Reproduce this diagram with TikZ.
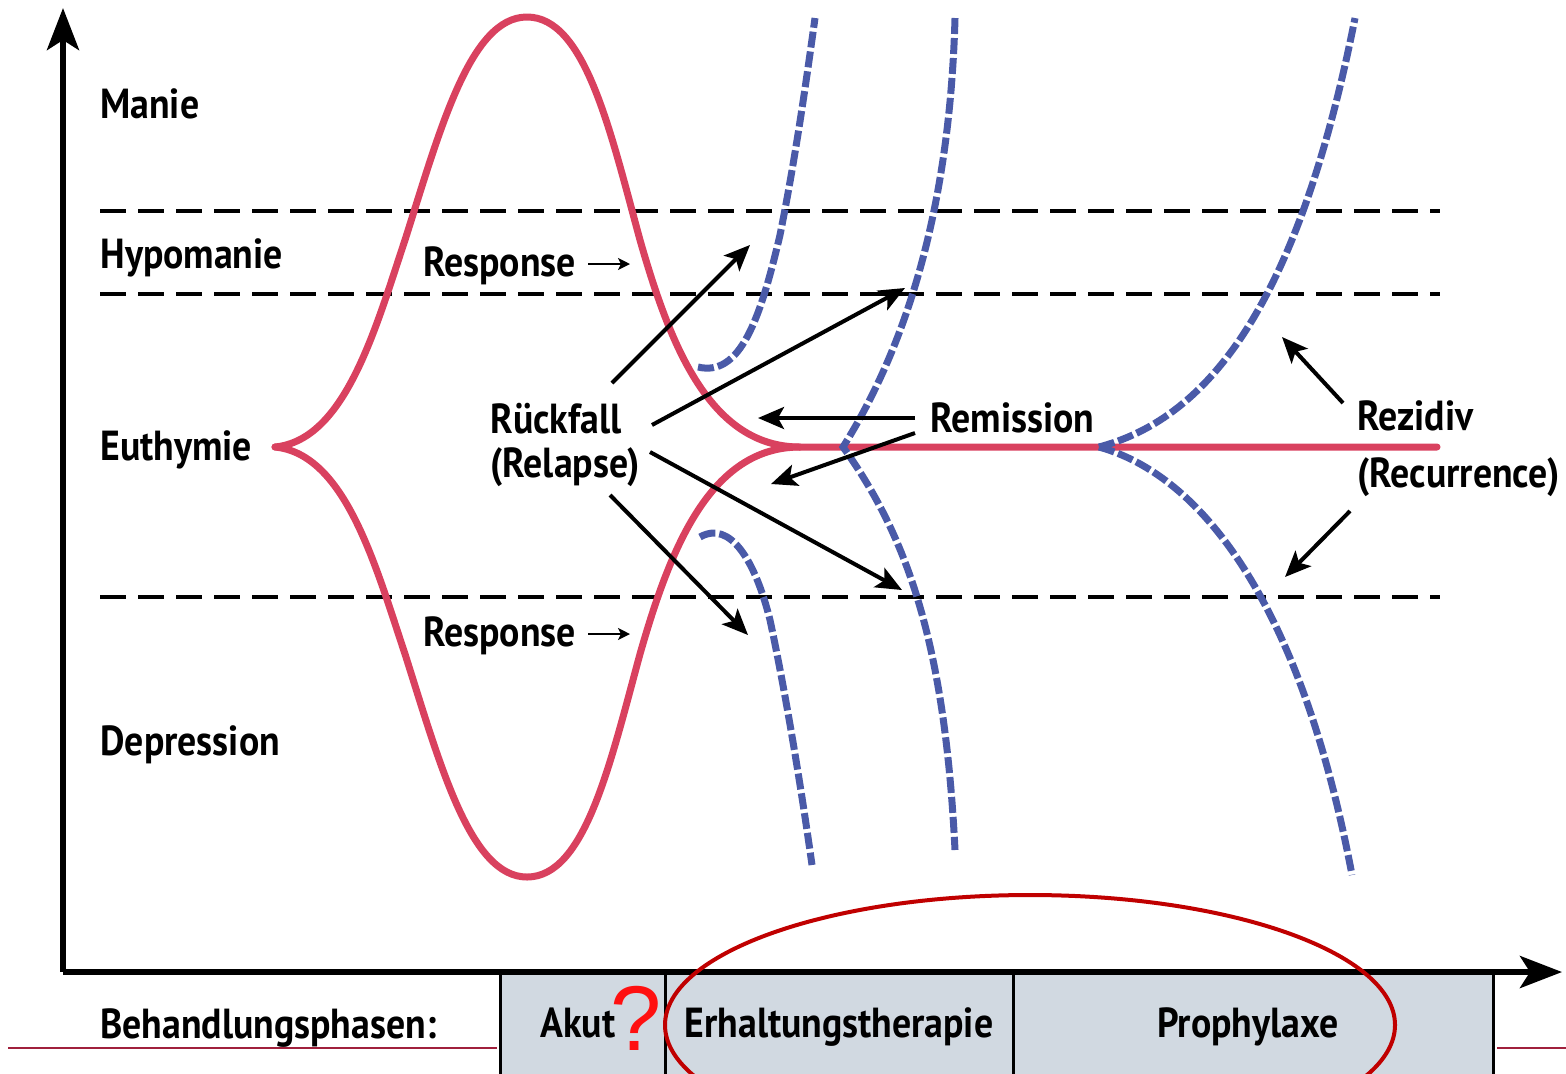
\documentclass[tikz,border=0pt]{standalone}
\usepackage{fontspec}
\setmainfont{PT Sans}[FakeStretch=0.9]
\newfontfamily\qfont{Liberation Sans}
\usetikzlibrary{arrows.meta}
\definecolor{curvered}{HTML}{D9415F}
\definecolor{curveblue}{HTML}{4A5AA8}
\definecolor{phasefill}{HTML}{D1D9E1}
\definecolor{linered}{HTML}{A0203C}
\definecolor{ellred}{HTML}{C00000}
\definecolor{qred}{HTML}{FF1010}
\begin{document}
\begin{tikzpicture}[x=0.5pt,y=-0.5pt,
  lab/.style={font=\fontsize{21}{21}\selectfont\bfseries, inner sep=0pt},
  levelline/.style={line width=2pt, dash pattern=on 13pt off 6pt},
  course/.style={line width=3.5pt, curvered, line cap=round},
  risk/.style={line width=3.5pt, curveblue, dash pattern=on 8pt off 2pt},
  pointer/.style={line width=2pt, -{Stealth[length=13pt,width=11pt,inset=3pt]}},
  smallpointer/.style={line width=1.2pt, -{Stealth[length=6pt,width=6pt,inset=1.5pt]}},
  axis/.style={line width=3pt, -{Stealth[length=21pt,width=16pt,inset=5pt]}},
  phasebox/.style={fill=phasefill, draw=none},
  divider/.style={line width=1.5pt}
]
\useasboundingbox (0,0) rectangle (1566,1073);
\clip (0,0) rectangle (1566,1073);

% phase boxes
\fill[phasebox] (500,972) rectangle (1493,1100);
\foreach \xx in {500,665,1013,1493} \draw[divider] (\xx,972) -- (\xx,1100);

% axes
\coordinate (origin) at (63,972);
\coordinate (ytop) at (63,8);
\coordinate (xend) at (1562,972);
\draw[axis] (origin) -- (ytop);
\draw[axis] (origin) -- (xend);

% level lines
\coordinate (l1a) at (100,211); \coordinate (l1b) at (1440,211);
\coordinate (l2a) at (100,294); \coordinate (l2b) at (1440,294);
\coordinate (l3a) at (100,597); \coordinate (l3b) at (1440,597);
\draw[levelline] (l1a) -- (l1b);
\draw[levelline] (l2a) -- (l2b);
\draw[levelline] (l3a) -- (l3b);

% red course
\draw[course] (275,447) .. controls (345,440) and (375,330) .. (405,240)
  .. controls (440,130) and (470,17) .. (527,17)
  .. controls (585,17) and (610,130) .. (640,240)
  .. controls (670,345) and (710,447) .. (800,447) -- (1437,447);
\draw[course] (275,447) .. controls (345,454) and (375,564) .. (405,654)
  .. controls (440,764) and (470,877) .. (527,877)
  .. controls (585,877) and (610,764) .. (640,654)
  .. controls (670,549) and (710,447) .. (800,447);

% blue dashed courses
\draw[risk] (698,367) .. controls (740,377) and (760,320) .. (780,235)
  .. controls (795,160) and (805,90) .. (815,18);
\draw[risk] (700,537) .. controls (730,520) and (755,560) .. (770,620)
  .. controls (785,690) and (800,780) .. (812,865);
\draw[risk] (955,18) .. controls (950,200) and (910,340) .. (843,447)
  .. controls (910,540) and (945,650) .. (955,850);
\draw[risk] (1099,447) .. controls (1200,420) and (1295,320) .. (1355,18);
\draw[risk] (1099,447) .. controls (1200,475) and (1300,600) .. (1352,875);

% labels
\node[lab, anchor=base west] (manie) at (100,118) {Manie};
\node[lab, anchor=base west] (hypo) at (100,268) {Hypomanie};
\node[lab, anchor=base west] (euth) at (100,460) {Euthymie};
\node[lab, anchor=base west] (depr) at (100,755) {Depression};
\node[lab, anchor=base west] (resp1) at (423,276) {Response};
\node[lab, anchor=base west] (resp2) at (423,646) {Response};
\node[lab, anchor=base west] (rueck) at (490,433) {Rückfall};
\node[lab, anchor=base west] (relapse) at (490,477) {(Relapse)};
\node[lab, anchor=base west] (remis) at (930,432) {Remission};
\node[lab, anchor=base west] (rezid) at (1357,430) {Rezidiv};
\node[lab, anchor=base west] (recur) at (1357,487) {(Recurrence)};
\node[lab, anchor=base west] (behand) at (100,1038) {Behandlungsphasen:};
\node[lab, anchor=base] (akut) at (578,1037) {Akut};
\node[lab, anchor=base] (erhalt) at (839,1037) {Erhaltungstherapie};
\node[lab, anchor=base] (prophy) at (1248,1037) {Prophylaxe};

% response arrows
\coordinate (r1a) at (588,264); \coordinate (r1b) at (630,264);
\coordinate (r2a) at (588,634); \coordinate (r2b) at (630,634);
\draw[smallpointer] (r1a) -- (r1b);
\draw[smallpointer] (r2a) -- (r2b);

% relapse arrows
\coordinate (ra1) at (612,383); \coordinate (rb1) at (750,245);
\coordinate (ra2) at (652,425); \coordinate (rb2) at (905,288);
\coordinate (ra3) at (650,452); \coordinate (rb3) at (902,590);
\coordinate (ra4) at (610,495); \coordinate (rb4) at (748,635);
\draw[pointer] (ra1) -- (rb1);
\draw[pointer] (ra2) -- (rb2);
\draw[pointer] (ra3) -- (rb3);
\draw[pointer] (ra4) -- (rb4);

% remission arrows
\coordinate (ma1) at (915,418); \coordinate (mb1) at (758,418);
\coordinate (ma2) at (915,433); \coordinate (mb2) at (771,484);
\draw[pointer] (ma1) -- (mb1);
\draw[pointer] (ma2) -- (mb2);

% recurrence arrows
\coordinate (za1) at (1343,403); \coordinate (zb1) at (1282,337);
\coordinate (za2) at (1350,511); \coordinate (zb2) at (1285,577);
\draw[pointer] (za1) -- (zb1);
\draw[pointer] (za2) -- (zb2);

% annotations
\draw[ellred, line width=2pt] (1030,1025) ellipse [x radius=182.5pt, y radius=65pt];
\node[inner sep=0pt, anchor=base, text=qred, font=\qfont\fontsize{46}{46}\selectfont] (qmark) at (636,1050) {?};
\coordinate (bl1) at (8,1048); \coordinate (bl2) at (497,1048);
\coordinate (bl3) at (1497,1048); \coordinate (bl4) at (1566,1048);
\draw[linered, line width=1pt] (bl1) -- (bl2);
\draw[linered, line width=1pt] (bl3) -- (bl4);
\end{tikzpicture}
\end{document}
